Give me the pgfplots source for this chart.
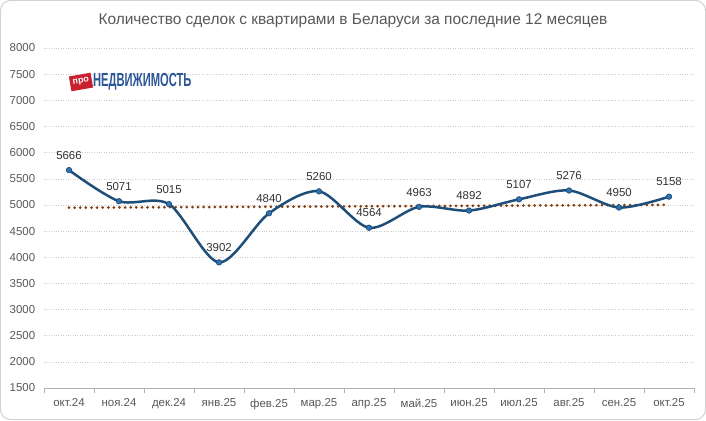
\documentclass[border=0pt]{standalone}
\usepackage{fontspec}
\setmainfont{Liberation Sans}
\usepackage{pgfplots}
\pgfplotsset{compat=1.18}
\definecolor{linec}{HTML}{1F4E79}
\definecolor{markc}{HTML}{2E75B6}
\definecolor{trendc}{HTML}{843C0C}
\definecolor{txt}{HTML}{595959}
\definecolor{logoblue}{HTML}{2B5797}
\definecolor{logored}{HTML}{C8202F}
\begin{document}
\begin{tikzpicture}[x=1bp,y=1bp]
\draw[draw=black!18, line width=1bp, rounded corners=10bp, fill=white] (0.5,0.5) rectangle (705.5,419.5);
\begin{axis}[
  at={(44bp,32bp)}, anchor=south west,
  scale only axis, width=650bp, height=340bp,
  xmin=-0.5, xmax=12.5, ymin=1500, ymax=8000,
  ytick={1500,2000,...,8000},
  xtick={0,...,12},
  xticklabels={окт.24,ноя.24,дек.24,янв.25,фев.25,мар.25,апр.25,май.25,июн.25,июл.25,авг.25,сен.25,окт.25},
  minor xtick={-0.5,0.5,...,12.5},
  major x tick style={draw=none},
  minor x tick style={draw=black!30},
  minor tick length=5bp,
  tick align=outside,
  ytick style={draw=none},
  axis x line*=bottom, axis y line*=left,
  x axis line style={draw=black!30,-},
  y axis line style={draw=none},
  ymajorgrids, grid style={draw=black!20, dotted},
  tick label style={font=\fontsize{11.5}{13}\selectfont, text=txt},
  /pgf/number format/1000 sep={},
  /pgf/number format/assume math mode=true,
  yticklabel style={xshift=-1bp},
  xticklabel style={yshift=-3bp},
  clip=false,
]
\addplot[trendc, line width=3bp, dash pattern=on 0.01bp off 5.6bp, line cap=round] coordinates {(0,4947) (12,5001)};
\addplot[linec, line width=2.5bp, smooth, tension=0.5, mark=*, mark size=2.7bp,
  mark options={fill=markc, draw=linec, line width=0.8bp, solid},
  nodes near coords, every node near coord/.append style={font=\fontsize{11.5}{13}\selectfont, text=black!80, yshift=7bp}]
 coordinates {(0,5666) (1,5071) (2,5015) (3,3902) (4,4840) (5,5260) (6,4564) (7,4963) (8,4892) (9,5107) (10,5276) (11,4950) (12,5158)};
\end{axis}
\node[text=txt, font=\fontsize{15.5}{17}\selectfont] at (353,399) {Количество сделок с квартирами в Беларуси за последние 12 месяцев};
\node[fill=logored, rotate=10, text=white, font=\bfseries\fontsize{9}{10}\selectfont, inner sep=1bp, minimum width=22bp, minimum height=15bp] at (81,338) {про};
\node[anchor=west, text=logoblue, font=\bfseries\fontsize{19}{21}\selectfont, xscale=0.59, inner sep=0] at (93,338) {НЕДВИЖИМОСТЬ};
\end{tikzpicture}
\end{document}
